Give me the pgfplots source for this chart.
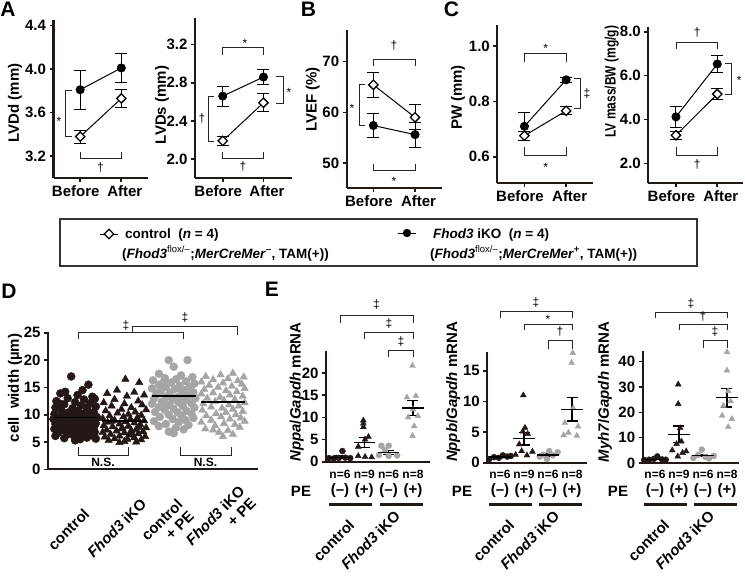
\documentclass[border=0pt]{standalone}
\usepackage{fontspec}
\setmainfont{Liberation Sans}
\usepackage{pgfplots}
\pgfplotsset{compat=1.18}
\definecolor{axc}{RGB}{35,24,21}
\definecolor{gry}{RGB}{165,165,165}
\newcommand\tf{\fontsize{15}{17}\selectfont\bfseries}
\newcommand\lf{\fontsize{15}{17}\selectfont\bfseries}
\newcommand\rf{\fontsize{15}{16}\selectfont\bfseries}
\newcommand\symf{\fontsize{12}{14}\selectfont}
\newcommand\legf{\fontsize{13.5}{15}\selectfont\bfseries}
\newcommand\nf{\fontsize{12}{14}\selectfont\bfseries}
\newcommand\letf{\fontsize{21}{24}\selectfont\bfseries}
\pgfplotsset{
 myax/.style={scale only axis, anchor=south west, clip=false, axis lines*=left,
   axis line style={line width=2.2pt, draw=axc},
   tick style={line width=1.6pt, draw=axc},
   tick align=outside, major tick length=4pt,
   tick label style={font=\tf, text=black}},
 ba/.style={xtick={0,1}, xticklabels={Before\hspace*{9pt}, \hspace*{7pt}After}},
 fser/.style={black, line width=1pt, mark=*, mark size=4pt, mark options={solid,fill=black},
   /pgfplots/error bars/y dir=both, /pgfplots/error bars/y explicit,
   /pgfplots/error bars/error bar style={line width=1pt, black},
   /pgfplots/error bars/error mark options={rotate=90, line width=1pt, mark size=6pt, black}},
 oser/.style={black, line width=1pt, mark=square*, mark size=3.3pt, mark options={solid,rotate=45,fill=white,draw=black,line width=1.3pt},
   /pgfplots/error bars/y dir=both, /pgfplots/error bars/y explicit,
   /pgfplots/error bars/error bar style={line width=1pt, black},
   /pgfplots/error bars/error mark options={rotate=90, line width=1pt, mark size=6pt, black}},
 dc/.style={only marks, mark=*, mark size=4pt, color=axc, mark options={fill=axc, draw=axc}},
 dt/.style={only marks, mark=triangle*, mark size=4.3pt, color=axc, mark options={fill=axc, draw=axc}},
 gc/.style={only marks, mark=*, mark size=4pt, color=gry, mark options={fill=gry, draw=gry}},
 gt/.style={only marks, mark=triangle*, mark size=4.3pt, color=gry, mark options={fill=gry, draw=gry}},
 ec/.style={only marks, mark=*, mark size=3pt, color=axc, mark options={fill=axc, draw=axc}},
 et/.style={only marks, mark=triangle*, mark size=3.4pt, color=axc, mark options={fill=axc, draw=axc}},
 egc/.style={only marks, mark=*, mark size=3pt, color=gry, mark options={fill=gry, draw=gry}},
 egt/.style={only marks, mark=triangle*, mark size=3.4pt, color=gry, mark options={fill=gry, draw=gry}},
 est/.style={only marks, black, mark=-, mark size=10.8pt, mark options={line width=1.2pt},
   /pgfplots/error bars/y dir=both, /pgfplots/error bars/y explicit,
   /pgfplots/error bars/error bar style={line width=1.2pt, black},
   /pgfplots/error bars/error mark options={rotate=90, line width=1.2pt, mark size=5.5pt, black}},
}
\begin{document}
\begin{tikzpicture}
\path[use as bounding box] (0,0) rectangle (745pt,-578pt);
% ---------- A1
\begin{axis}[myax, ba, at={(53.5pt,-178pt)}, width=94.5pt, height=158pt, xmin=-0.65, xmax=1.65, ymin=3.0, ymax=4.45,
  ytick={3.2,3.6,4.0,4.4}, yticklabels={3.2,3.6,4.0,4.4}]
\addplot[fser] coordinates {(0,3.81) +- (0,0.18) (1,4.01) +- (0,0.135)};
\addplot[oser] coordinates {(0,3.38) +- (0,0.06) (1,3.73) +- (0,0.085)};
\end{axis}
% ---------- A2
\begin{axis}[myax, ba, at={(195pt,-178pt)}, width=97pt, height=160pt, xmin=-0.68, xmax=1.7, ymin=1.8, ymax=3.48,
  ytick={2.0,2.4,2.8,3.2}, yticklabels={2.0,2.4,2.8,3.2}]
\addplot[fser] coordinates {(0,2.66) +- (0,0.105) (1,2.86) +- (0,0.08)};
\addplot[oser] coordinates {(0,2.19) +- (0,0.045) (1,2.59) +- (0,0.095)};
\end{axis}
% ---------- B
\begin{axis}[myax, ba, at={(346.7pt,-188pt)}, width=95pt, height=158pt, xmin=-0.64, xmax=1.64, ymin=45.1, ymax=76.2,
  ytick={50,60,70}, yticklabels={50,60,70}]
\addplot[fser] coordinates {(0,57.4) +- (0,2.35) (1,55.6) +- (0,2.45)};
\addplot[oser] coordinates {(0,65.4) +- (0,2.4) (1,59.0) +- (0,2.45)};
\end{axis}
% ---------- C1
\begin{axis}[myax, ba, at={(497.3pt,-183.3pt)}, width=96pt, height=158.3pt, xmin=-0.65, xmax=1.65, ymin=0.504, ymax=1.076,
  ytick={0.6,0.8,1.0}, yticklabels={0.6,0.8,1.0}]
\addplot[fser] coordinates {(0,0.71) +- (0,0.05) (1,0.878) +- (0,0.008)};
\addplot[oser] coordinates {(0,0.676) +- (0,0.016) (1,0.766) +- (0,0.014)};
\end{axis}
% ---------- C2
\begin{axis}[myax, ba, at={(648.3pt,-183.3pt)}, width=95pt, height=156.6pt, xmin=-0.67, xmax=1.63, ymin=1.09, ymax=8.23,
  ytick={2,4,6,8}, yticklabels={2.0,4.0,6.0,8.0}]
\addplot[fser] coordinates {(0,4.12) +- (0,0.47) (1,6.53) +- (0,0.4)};
\addplot[oser] coordinates {(0,3.28) +- (0,0.18) (1,5.16) +- (0,0.26)};
\end{axis}
% ---------- D
\begin{axis}[myax, at={(48pt,-469.3pt)}, width=210pt, height=137.6pt, xmin=-0.55, xmax=3.71, ymin=0, ymax=25.2,
  xtick=\empty, ytick={0,5,10,15,20,25}, yticklabels={0,5,10,15,20,25}]
\addplot[dc] coordinates {(-0.08,17.0) (0.27,15.5) (0.15,14.5) (-0.2,14.2) (-0.3,13.9) (0.05,13.6) (0.35,13.3) (-0.15,13.0) (0.4,12.9) (0.18,12.8) (-0.38,12.5) (0.0,12.3) (0.3,12.1) (-0.3,12.0) (-0.22,11.9) (0.12,11.7) (0.42,11.5) (0.25,11.4) (-0.4,11.3) (-0.05,11.2) (0.24,11.0) (-0.28,10.8) (0.06,10.7) (0.38,10.5) (-0.14,10.4) (0.2,10.3) (-0.42,10.1) (-0.02,10.0) (0.32,9.9) (-0.25,9.8) (0.1,9.7) (0.44,9.6) (-0.35,9.5) (-0.1,9.4) (0.22,9.3) (-0.44,9.2) (0.0,9.1) (0.36,9.0) (-0.18,8.9) (0.14,8.8) (-0.32,8.7) (0.28,8.6) (-0.04,8.5) (0.42,8.4) (-0.4,8.3) (0.08,8.2) (-0.2,8.1) (0.24,8.0) (-0.36,7.9) (0.0,7.8) (0.38,7.7) (-0.12,7.6) (0.18,7.5) (-0.42,7.4) (0.3,7.3) (-0.26,7.2) (0.06,7.1) (-0.06,6.9) (0.4,6.8) (-0.34,6.7) (0.2,6.6) (-0.16,6.4) (0.1,6.3) (0.34,6.2) (-0.4,6.1) (-0.02,6.0) (0.24,5.8) (-0.22,5.7) (0.42,5.6) (0.1,5.5) (0.0,5.3)};
\addplot[dt] coordinates {(1.02,16.5) (1.3,15.9) (0.85,14.5) (1.2,14.1) (0.65,13.9) (1.4,13.6) (1.05,13.4) (0.8,12.8) (1.28,12.5) (0.58,12.2) (1.0,12.0) (1.36,11.8) (0.74,11.6) (1.14,11.3) (0.94,11.0) (1.44,10.9) (0.62,10.7) (1.22,10.5) (0.86,10.3) (1.08,10.1) (1.34,9.9) (0.7,9.8) (0.98,9.6) (1.26,9.4) (0.56,9.3) (1.12,9.2) (0.8,9.0) (1.4,8.9) (1.02,8.7) (0.66,8.6) (1.2,8.5) (0.74,8.8) (0.9,8.3) (1.32,8.2) (0.58,8.0) (1.08,7.9) (0.76,7.8) (1.3,7.7) (1.44,7.6) (0.96,7.5) (0.94,7.4) (1.24,7.3) (0.64,7.2) (1.14,7.1) (0.84,7.0) (1.38,6.9) (0.56,6.8) (1.0,6.7) (1.14,6.6) (1.28,6.5) (0.72,6.4) (1.1,6.3) (0.9,6.1) (1.42,6.0) (0.6,5.9) (1.2,5.8) (0.8,5.6) (1.06,5.5) (1.34,5.4) (0.68,5.3) (1.0,5.1) (1.24,5.0) (0.9,4.9)};
\addplot[gc] coordinates {(1.9,20.0) (2.28,20.0) (2.0,18.8) (1.7,17.5) (2.15,17.2) (2.38,16.9) (1.82,16.7) (2.05,16.5) (1.58,16.3) (2.25,16.1) (1.8,16.0) (1.95,15.9) (2.42,15.7) (1.7,15.5) (2.12,15.3) (1.84,15.1) (2.32,15.0) (2.1,14.9) (1.56,14.8) (2.02,14.7) (2.22,14.5) (1.74,14.3) (2.4,14.1) (1.66,14.0) (1.92,14.0) (2.16,13.8) (1.64,13.6) (2.3,13.5) (1.86,13.3) (2.06,13.2) (2.2,13.1) (2.44,13.0) (1.6,12.9) (1.98,12.7) (2.24,12.6) (1.76,12.4) (1.8,12.2) (2.1,12.3) (2.36,12.1) (1.56,12.0) (1.9,11.8) (2.18,11.6) (1.7,11.4) (2.42,11.3) (2.0,11.1) (1.82,10.9) (2.26,10.7) (1.62,10.5) (2.08,10.4) (2.36,10.2) (1.9,10.0) (2.16,9.8) (1.72,9.6) (2.4,9.4) (1.98,9.2) (2.24,9.0) (1.6,8.8) (2.1,8.6) (1.84,8.3) (2.3,8.1) (1.7,7.9) (2.04,7.6) (2.2,7.3) (1.9,6.9) (2.0,6.6)};
\addplot[gt] coordinates {(3.2,17.6) (2.95,17.3) (2.65,17.0) (3.42,16.9) (3.1,16.6) (2.8,16.4) (3.3,16.2) (2.56,16.0) (3.0,15.8) (3.38,15.6) (2.72,15.4) (3.18,15.2) (2.9,15.0) (3.44,14.8) (2.62,14.6) (3.06,14.4) (3.28,14.2) (2.8,14.0) (2.56,13.8) (3.14,13.6) (3.4,13.4) (2.94,13.2) (2.68,13.0) (3.24,12.8) (3.02,12.6) (2.84,12.4) (3.44,12.2) (2.6,12.0) (3.12,11.8) (3.32,11.6) (2.76,11.4) (2.98,11.2) (3.2,11.0) (2.58,10.8) (3.4,10.6) (3.06,10.4) (2.86,10.2) (3.26,10.0) (2.66,9.8) (2.96,9.6) (3.36,9.4) (3.14,9.2) (2.76,9.0) (3.44,8.8) (2.56,8.6) (3.02,8.4) (3.24,8.2) (2.84,8.0) (3.34,7.7) (2.64,7.4) (2.8,7.2) (3.1,7.1) (2.92,6.8) (3.2,6.4) (3.0,6.0)};
\addplot[only marks, black, mark=-, mark size=22pt, mark options={line width=1.3pt}] coordinates {(0,9.5) (1,8.85) (2,13.4) (3,12.3)};
\end{axis}
% ---------- E1
\begin{axis}[myax, at={(326pt,-461.7pt)}, width=104pt, height=111pt, xmin=-0.576, xmax=3.7, ymin=0, ymax=25,
  xtick=\empty, ytick={0,5,10,15,20}, yticklabels={0,5,10,15,20}]
\addplot[ec] coordinates {(-0.45,0.8) (-0.25,0.75) (-0.05,0.85) (0.1,2.4) (0.22,0.9) (0.42,0.8)};
\addplot[et] coordinates {(0.96,9.3) (0.96,8.6) (0.96,7.8) (1.17,5.6) (1.03,5.0) (0.75,3.4) (0.75,1.3) (1.03,1.1) (1.3,1.0)};
\addplot[egc] coordinates {(1.7,3.6) (2.0,3.6) (1.85,2.6) (1.6,1.5) (2.0,1.3) (2.35,1.4)};
\addplot[egt] coordinates {(2.98,21.6) (2.75,14.5) (3.12,14.8) (3.0,11.8) (3.2,10.3) (2.8,10.0) (3.05,8.0) (2.98,5.8)};
\addplot[est] coordinates {(0,1.0) +- (0,0.27) (1,4.3) +- (0,1.1) (2,2.0) +- (0,0.45) (3,12.1) +- (0,1.7)};
\end{axis}
% ---------- E2
\begin{axis}[myax, at={(487.3pt,-462.7pt)}, width=99.4pt, height=111pt, xmin=-0.53, xmax=3.61, ymin=0, ymax=18.1,
  xtick=\empty, ytick={0,5,10,15}, yticklabels={0,5,10,15}]
\addplot[ec] coordinates {(-0.45,0.6) (-0.25,0.9) (-0.05,0.8) (0.12,1.2) (0.3,1.0) (0.45,1.1)};
\addplot[et] coordinates {(0.97,11.0) (1.04,5.7) (0.95,5.1) (1.15,4.7) (0.8,3.0) (0.65,1.3) (0.9,1.9) (1.12,1.2) (1.35,1.8)};
\addplot[egc] coordinates {(1.65,1.0) (1.8,1.3) (1.95,0.6) (2.05,1.9) (2.2,1.2) (2.4,1.7)};
\addplot[egt] coordinates {(3.03,17.9) (2.98,16.3) (3.05,8.9) (2.7,6.5) (3.25,5.9) (2.85,4.9) (2.65,4.5) (3.2,4.4)};
\addplot[est] coordinates {(0,0.93) +- (0,0.12) (1,3.9) +- (0,1.0) (2,1.25) +- (0,0.2) (3,8.7) +- (0,1.9)};
\end{axis}
% ---------- E3
\begin{axis}[myax, at={(642.7pt,-463pt)}, width=96.3pt, height=112.3pt, xmin=-0.51, xmax=3.5, ymin=0, ymax=44.3,
  xtick=\empty, ytick={0,10,20,30,40}, yticklabels={0,10,20,30,40}]
\addplot[ec] coordinates {(-0.45,1.2) (-0.25,1.3) (-0.05,1.6) (0.1,2.6) (0.3,1.4) (0.45,1.3)};
\addplot[et] coordinates {(0.97,31.0) (0.97,23.3) (1.05,13.8) (1.1,8.5) (0.9,7.5) (0.72,5.0) (1.3,4.6) (1.15,4.0) (0.95,2.6)};
\addplot[egc] coordinates {(1.6,2.0) (1.8,3.2) (1.95,5.3) (2.1,2.4) (2.25,1.8) (2.45,2.8)};
\addplot[egt] coordinates {(3.0,43.7) (3.0,36.5) (3.05,28.3) (3.15,24.4) (2.85,22.6) (2.8,18.7) (3.2,17.4) (3.05,14.2)};
\addplot[est] coordinates {(0,1.5) +- (0,0.2) (1,11.3) +- (0,3.3) (2,3.0) +- (0,0.5) (3,25.7) +- (0,3.6)};
\end{axis}
% ---------- annotations
\begin{scope}[x=1pt, y=-1pt, br/.style={line width=1pt, draw=black!85}, sym/.style={font=\symf, inner sep=0pt}]
% letters
\node[font=\letf] at (8,9) {A};
\node[font=\letf] at (308.5,9) {B};
\node[font=\letf] at (451.5,9) {C};
\node[font=\letf] at (9,291) {D};
\node[font=\letf] at (272,289) {E};
% y labels
\node[rotate=90, font=\lf] at (15,103) {LVDd (mm)};
\node[rotate=90, font=\lf] at (162,105) {LVDs (mm)};
\node[rotate=90, font=\lf] at (312.7,99.5) {LVEF (\%)};
\node[rotate=90, font=\lf] at (458,97.5) {PW (mm)};
\node[rotate=90, font=\lf] at (611.7,81.7) {\scalebox{0.8}[1]{LV mass/BW (mg/g)}};
\node[rotate=90, font=\lf] at (15,388) {cell\ \ width (µm)};
\node[rotate=90, font=\lf] at (296.7,392) {\textit{Nppa}/\textit{Gapdh} mRNA};
\node[rotate=90, font=\lf] at (453.3,392) {\textit{Nppb}/\textit{Gapdh} mRNA};
\node[rotate=90, font=\lf] at (605,392) {\textit{Myh7}/\textit{Gapdh} mRNA};
% A1
\draw[br] (72,90.7) -- (65.7,90.7) -- (65.7,136.7) -- (72,136.7);
\node[sym] at (59,121) {*};
\draw[br] (80,152) -- (80,158) -- (121,158) -- (121,152);
\node[sym] at (100.5,168) {†};
% A2
\draw[br] (222.7,55) -- (222.7,47.7) -- (263.3,47.7) -- (263.3,55);
\node[sym] at (245,43) {*};
\draw[br] (214,96.7) -- (208,96.7) -- (208,141) -- (214,141);
\node[sym] at (202,119) {†};
\draw[br] (222.7,152) -- (222.7,158) -- (263.3,158) -- (263.3,152);
\node[sym] at (243,167) {†};
\draw[br] (276,77) -- (283,77) -- (283,103.3) -- (276,103.3);
\node[sym] at (289,92) {*};
% B
\draw[br] (373.3,66) -- (373.3,59.3) -- (415,59.3) -- (415,66);
\node[sym] at (394,46) {†};
\draw[br] (364.5,85) -- (359,85) -- (359,125.7) -- (364.5,125.7);
\node[sym] at (352,108) {*};
\draw[br] (373.3,163.5) -- (373.3,170.7) -- (415,170.7) -- (415,163.5);
\node[sym] at (394,181) {*};
% C1
\draw[br] (524.3,61.7) -- (524.3,54) -- (566,54) -- (566,61.7);
\node[sym] at (545.7,48) {*};
\draw[br] (574,79) -- (580,79) -- (580,109) -- (574,109);
\node[sym] at (587,94) {‡};
\draw[br] (524.3,147) -- (524.3,155.7) -- (566,155.7) -- (566,147);
\node[sym] at (545.7,167) {*};
% C2
\draw[br] (676,49.3) -- (676,42.3) -- (717.3,42.3) -- (717.3,49.3);
\node[sym] at (697.3,33) {†};
\draw[br] (725,64) -- (731,64) -- (731,94.3) -- (725,94.3);
\node[sym] at (739.3,80) {*};
\draw[br] (676,146.7) -- (676,155) -- (717.3,155) -- (717.3,146.7);
\node[sym] at (697.3,165) {†};
% legend
\draw[line width=1.2pt, draw=black!80] (60,219) rectangle (697,266);
\draw[line width=1pt] (100,234) -- (118,234);
\filldraw[fill=white, draw=black, line width=1.3pt] (109,229.3) -- (113.7,234) -- (109,238.7) -- (104.3,234) -- cycle;
\node[font=\legf, anchor=west, inner sep=0pt] at (125,235) {control\ \ (\textit{n} = 4)};
\node[font=\legf, anchor=west, inner sep=0pt] at (122,253.5) {(\textit{Fhod3}\textsuperscript{\mdseries flox/–};\textit{MerCreMer}\textsuperscript{–}, TAM(+))};
\draw[line width=1pt] (398,233) -- (416,233);
\fill[black] (407,233) circle (4.2);
\node[font=\legf, anchor=west, inner sep=0pt] at (433,235) {\textit{Fhod3} iKO\ \ (\textit{n} = 4)};
\node[font=\legf, anchor=west, inner sep=0pt] at (430,253.5) {(\textit{Fhod3}\textsuperscript{\mdseries flox/–};\textit{MerCreMer}\textsuperscript{+}, TAM(+))};
% D annotations
\draw[br] (78,339) -- (78,332.7) -- (183,332.7) -- (183,339);
\draw[br] (132.7,332.7) -- (132.7,326.7) -- (237.7,326.7) -- (237.7,335);
\node[sym] at (126,326) {‡};
\node[sym] at (185,318) {‡};
\draw[br] (78,446.7) -- (78,455) -- (128.3,455) -- (128.3,446.7);
\node[font=\nf] at (103,462) {N.S.};
\draw[br] (180,446.7) -- (180,455) -- (231,455) -- (231,446.7);
\node[font=\nf] at (205.5,462) {N.S.};
\node[font=\rf, rotate=45, anchor=east] at (89,509) {control};
\node[font=\rf, rotate=45, anchor=east] at (146,499) {\textit{Fhod3} iKO};
\node[font=\rf, rotate=45, anchor=east, align=right] at (188,505) {control\\+ PE};
\node[font=\rf, rotate=45, anchor=east, align=right] at (250,492) {\textit{Fhod3} iKO\\+ PE};
% E1 annotations
\draw[br] (340,323) -- (340,315) -- (413,315) -- (413,323);
\node[sym] at (376.5,305) {‡};
\draw[br] (364.3,339.3) -- (364.3,332.7) -- (413,332.7) -- (413,339.3);
\node[sym] at (389,324) {‡};
\draw[br] (388.6,356.7) -- (388.6,350) -- (413,350) -- (413,356.7);
\node[sym] at (401,342) {‡};
% E2
\draw[br] (500,318) -- (500,311) -- (572,311) -- (572,318);
\node[sym] at (536,303) {‡};
\draw[br] (524,330) -- (524,324) -- (572,324) -- (572,330);
\node[sym] at (548,319) {*};
\draw[br] (548,349.3) -- (548,340.7) -- (572,340.7) -- (572,349.3);
\node[sym] at (560,332) {†};
% E3
\draw[br] (655,318) -- (655,312) -- (727,312) -- (727,318);
\node[sym] at (691,304) {‡};
\draw[br] (679,330) -- (679,324) -- (727,324) -- (727,330);
\node[sym] at (703,317) {†};
\draw[br] (703,348.3) -- (703,340.7) -- (727,340.7) -- (727,348.3);
\node[sym] at (715,332) {‡};
% E bottoms
\foreach \a/\b/\c/\d/\p in {340/364.3/388.6/413/301, 500/524/548/572/462, 655/679/703/727/618}{
  \node[font=\nf] at (\a,474) {n=6};
  \node[font=\nf] at (\b,474) {n=9};
  \node[font=\nf] at (\c,474) {n=6};
  \node[font=\nf] at (\d,474) {n=8};
  \node[font=\lf] at (\p,491) {PE};
  \node[font=\lf] at (\a,491) {(–)};
  \node[font=\lf] at (\b,491) {(+)};
  \node[font=\lf] at (\c,491) {(–)};
  \node[font=\lf] at (\d,491) {(+)};
  \draw[line width=3pt, draw=axc] (\a-11,504.3) -- (\b+8,504.3);
  \draw[line width=3pt, draw=axc] (\c-9,504.3) -- (\d+10,504.3);
  \node[font=\rf, rotate=45, anchor=east] at ({(\a+\b)/2+2},520) {control};
  \node[font=\rf, rotate=45, anchor=east] at ({(\c+\d)/2-1},511) {\textit{Fhod3} iKO};
}
\end{scope}
\end{tikzpicture}
\end{document}
